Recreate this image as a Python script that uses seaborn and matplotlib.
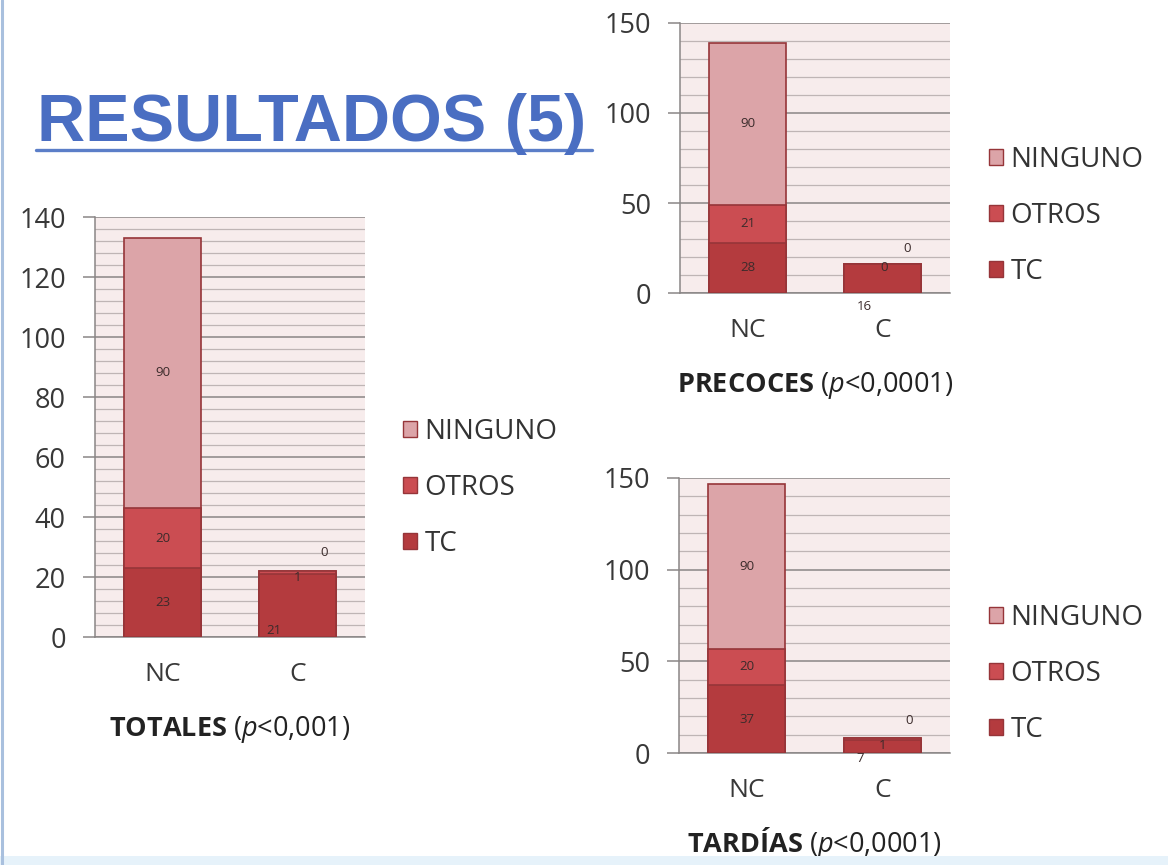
import matplotlib
matplotlib.use("Agg")
import matplotlib.pyplot as plt
import seaborn as sns
from matplotlib.patches import Patch, Rectangle
from matplotlib.lines import Line2D
from matplotlib.ticker import MultipleLocator

# ---- data -------------------------------------------------------------
groups = ["NC", "C"]
series_order = ["NINGUNO", "OTROS", "TC"]   # legend order (top to bottom)

totales_tc = [23, 21]
totales_otros = [20, 1]
totales_ninguno = [90, 0]

precoces_tc = [28, 16]
precoces_otros = [21, 0]
precoces_ninguno = [90, 0]

tardias_tc = [37, 7]
tardias_otros = [20, 1]
tardias_ninguno = [90, 0]

caption_totales = r"$\mathbf{TOTALES}$ ($\mathit{p}$<0,001)"
caption_precoces = r"$\mathbf{PRECOCES}$ ($\mathit{p}$<0,0001)"
caption_tardias = r"$\mathbf{TARDÍAS}$ ($\mathit{p}$<0,0001)"

# ---- style ------------------------------------------------------------
sns.set_style("white")
plt.rcParams["font.family"] = ["Open Sans", "DejaVu Sans"]
plt.rcParams["mathtext.fontset"] = "custom"
plt.rcParams["mathtext.rm"] = "Open Sans"
plt.rcParams["mathtext.bf"] = "Open Sans:bold"
plt.rcParams["mathtext.it"] = "Open Sans:italic"

colors = {"NINGUNO": "#dca4a8", "OTROS": "#cb4d52", "TC": "#b43b3e"}
edge = "#963539"
grid_major = "#8a8686"
grid_minor = "#bfb5b5"
panel_bg = "#f7ecec"
text_dark = "#383838"

fig = plt.figure(figsize=(11.68, 8.65), dpi=100)
fig.patch.set_facecolor("white")

W, H = 1168, 865


def box(left, top, right, bottom):
    return [left / W, 1 - bottom / H, (right - left) / W, (bottom - top) / H]


def draw_panel(ax, tc, otros, ninguno, ymax, major, minor, caption, c_offsets):
    mid = [a + b for a, b in zip(tc, otros)]
    total = [a + b for a, b in zip(mid, ninguno)]
    # stacked bars: draw cumulative heights from the tallest layer down
    for name, vals in (("NINGUNO", total), ("OTROS", mid), ("TC", tc)):
        sns.barplot(x=groups, y=vals, order=groups, ax=ax, color=colors[name],
                    saturation=1, width=0.57, edgecolor=edge, linewidth=1.2,
                    zorder=3)
    ax.set_xlim(-0.5, 1.5)
    ax.set_ylim(0, ymax)
    ax.set_facecolor(panel_bg)
    ax.set_axisbelow(True)
    ax.yaxis.set_major_locator(MultipleLocator(major))
    ax.yaxis.set_minor_locator(MultipleLocator(minor))
    ax.grid(which="major", axis="y", color=grid_major, lw=1.1)
    ax.grid(which="minor", axis="y", color=grid_minor, lw=0.9)
    ax.grid(which="both", axis="x", visible=False)
    for s in ("top", "right"):
        ax.spines[s].set_visible(False)
    for s in ("left", "bottom"):
        ax.spines[s].set_color(grid_major)
        ax.spines[s].set_linewidth(1.1)
    ax.tick_params(axis="y", which="major", length=9, width=1.1, color=grid_major,
                   pad=12, labelsize=19.5, labelcolor=text_dark, left=True)
    ax.tick_params(axis="y", which="minor", length=0)
    ax.tick_params(axis="x", length=0, pad=18, labelsize=19, labelcolor=text_dark)
    ax.set_xlabel("")
    ax.set_ylabel("")

    # value labels: NC segments centred, C labels set beside their segments
    lab_kw = dict(fontsize=9.5, color="#3b2b2b", ha="center", va="center",
                  textcoords="offset pixels", zorder=5)
    starts = [0, tc[0], mid[0]]
    for val, y0 in zip((tc[0], otros[0], ninguno[0]), starts):
        ax.annotate(str(val), xy=(0, y0 + val / 2), xytext=(0, 0), **lab_kw)
    anchors = {"TC": 0, "OTROS": tc[1] + otros[1] / 2, "NINGUNO": total[1]}
    values = {"TC": tc[1], "OTROS": otros[1], "NINGUNO": ninguno[1]}
    for name in ("TC", "OTROS", "NINGUNO"):
        ax.annotate(str(values[name]), xy=(1, anchors[name]),
                    xytext=c_offsets[name], **lab_kw)

    ax.annotate(caption, xy=(0.5, 0), xycoords="axes fraction",
                xytext=(0, -99), textcoords="offset pixels",
                ha="center", va="baseline", fontsize=19.5, color="#222222")


def add_legend(x, y):
    handles = [Patch(facecolor=colors[n], edgecolor=edge, lw=1) for n in series_order]
    fig.legend(handles, series_order, loc="center left",
               bbox_to_anchor=(x / W, 1 - y / H), frameon=False, fontsize=20,
               handlelength=0.52, handleheight=0.52, handletextpad=0.25,
               labelspacing=1.0, borderpad=0, borderaxespad=0,
               labelcolor="#333333")


ax_tot = fig.add_axes(box(95, 217, 365, 637))
draw_panel(ax_tot, totales_tc, totales_otros, totales_ninguno, 140, 20, 4,
           caption_totales,
           {"TC": (-24, 6), "OTROS": (0, -5), "NINGUNO": (27, 19)})
add_legend(403, 488)

ax_pre = fig.add_axes(box(680, 23, 950, 293))
draw_panel(ax_pre, precoces_tc, precoces_otros, precoces_ninguno, 150, 50, 10,
           caption_precoces,
           {"TC": (-18, -14), "OTROS": (2, -3), "NINGUNO": (25, 16)})
add_legend(989, 216)

ax_tar = fig.add_axes(box(679, 478, 950, 753))
draw_panel(ax_tar, tardias_tc, tardias_otros, tardias_ninguno, 150, 50, 10,
           caption_tardias,
           {"TC": (-22, -5), "OTROS": (0, -6), "NINGUNO": (27, 18)})
add_legend(989, 674)

# ---- slide title and frame --------------------------------------------
fig.text(37 / W, 1 - 141 / H, "RESULTADOS (5)", fontsize=48,
         fontweight="bold", family="Liberation Sans", color="#4a6ec2",
         ha="left", va="baseline")
fig.add_artist(Line2D([36 / W, 592 / W], [1 - 150 / H, 1 - 150 / H],
                      color="#5b7ec8", lw=2.4, transform=fig.transFigure))
fig.add_artist(Line2D([1.5 / W, 1.5 / W], [0, 1], color="#a9c0de", lw=2.2,
                      transform=fig.transFigure))
fig.add_artist(Rectangle((0, 0), 1, 9 / H, facecolor="#e6f2fa", edgecolor="none",
                         transform=fig.transFigure))

fig.savefig("out.png", dpi=100, facecolor=fig.get_facecolor())
